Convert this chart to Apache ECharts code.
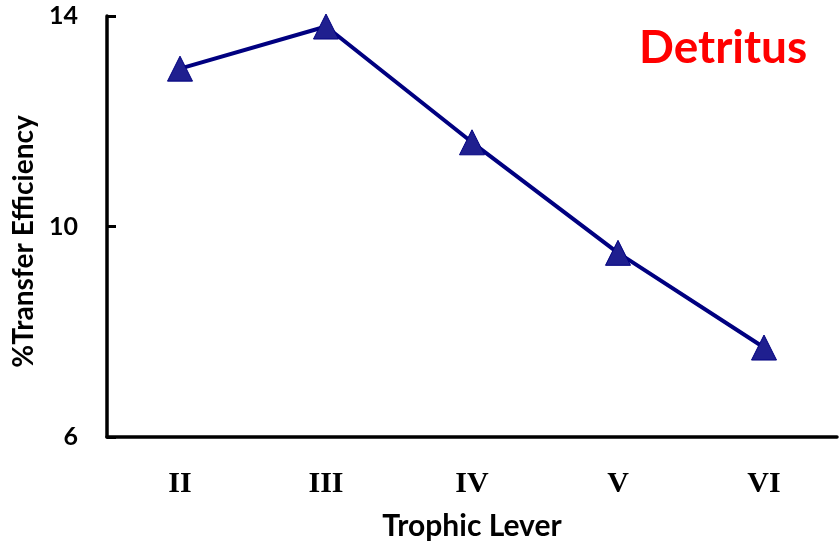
<!DOCTYPE html>
<html>
<head>
<meta charset="utf-8">
<script src="https://cdn.jsdelivr.net/npm/echarts@6/dist/echarts.min.js"></script>
<style>html,body{margin:0;padding:0;background:#fff}#c{width:840px;height:549px}</style>
</head>
<body>
<div id="c"></div>
<script>
const categories = ['II', 'III', 'IV', 'V', 'VI'];
const efficiency = [13.0, 13.8, 11.6, 9.5, 7.7];
const yTicks = [6, 10, 14];
const titleText = 'Detritus';
const xName = 'Trophic Lever';
const yName = '%Transfer Efficiency';

const FONT = 'Lato, "Open Sans", sans-serif';
const SERIF = '"Liberation Serif", "DejaVu Serif", serif';
const chart = echarts.init(document.getElementById('c'));
chart.setOption({
  animation: false,
  backgroundColor: '#fff',
  title: {
    text: titleText, left: 634, top: 20,
    textStyle: { color: '#ff0000', fontSize: 46, fontWeight: 'bold', fontFamily: FONT }
  },
  grid: { left: 107, top: 16, right: 3, bottom: 112, outerBoundsMode: 'none', containLabel: false },
  xAxis: {
    type: 'category', data: categories, boundaryGap: true,
    name: xName, nameLocation: 'middle', nameGap: 74,
    nameTextStyle: { fontSize: 30, fontWeight: 'bold', color: '#000', fontFamily: FONT },
    axisLine: { lineStyle: { color: '#000', width: 3.5 } },
    axisTick: { inside: true, length: 9, lineStyle: { color: '#000', width: 3 } },
    axisLabel: { margin: 32, fontSize: 30, fontWeight: 'bold', color: '#000', fontFamily: SERIF },
    splitLine: { show: false }
  },
  yAxis: {
    type: 'value', min: 6, max: 14,
    name: yName, nameLocation: 'middle', nameGap: 65, nameRotate: 90,
    nameTextStyle: { fontSize: 28, fontWeight: 'bold', color: '#000', fontFamily: FONT, padding: [0, 30, 0, 0] },
    axisLine: { show: true, lineStyle: { color: '#000', width: 3.5 } },
    axisTick: { show: true, inside: true, length: 9, customValues: yTicks, lineStyle: { color: '#000', width: 3 } },
    axisLabel: { margin: 29, customValues: yTicks, fontSize: 25, fontWeight: 'bold', color: '#000', fontFamily: FONT },
    splitLine: { show: false }
  },
  series: [{
    type: 'line', data: efficiency,
    symbol: 'triangle', symbolSize: [25, 25],
    lineStyle: { color: '#000080', width: 4 },
    itemStyle: { color: '#1f1f8f', borderColor: '#000080', borderWidth: 1 }
  }]
});
</script>
</body>
</html>
